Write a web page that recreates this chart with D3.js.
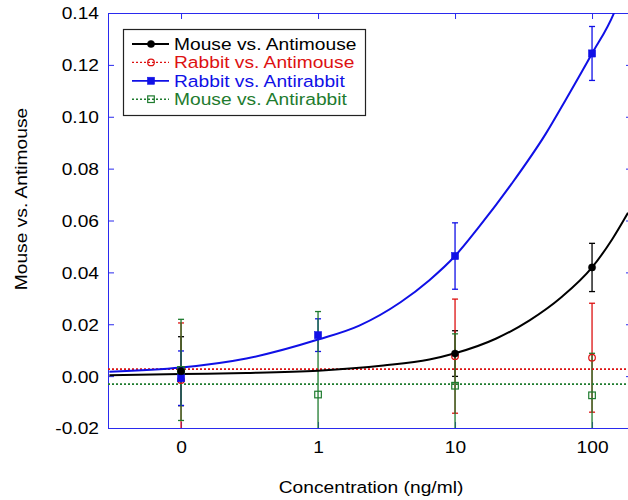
<!DOCTYPE html>
<html>
<head>
<meta charset="utf-8">
<script src="https://cdn.jsdelivr.net/npm/d3@7"></script>
<style>
  html, body { margin: 0; padding: 0; background: #fff; }
  svg { display: block; }
  text { font-family: "Liberation Sans", Arial, sans-serif; }
</style>
</head>
<body>
<svg id="chart" width="628" height="500"></svg>
<script>
// ---- data ----
const categories = ["0", "1", "10", "100"];
const concentrations = [0.1, 1, 10, 100]; // "0" drawn one decade below 1

const mouseAntimouse      = [0.0019, null, 0.0087, 0.0419];
const mouseAntimouseErr   = [0.0133, null, 0.0088, 0.0093];
const rabbitAntimouse     = [-0.0015, null, 0.0077, 0.0071];
const rabbitAntimouseErr  = [0.022, null, 0.022, 0.021];
const rabbitAntirabbit    = [-0.0008, 0.0158, 0.0463, 0.1244];
const rabbitAntirabbitErr = [0.0105, 0.0063, 0.0128, 0.0104];
const mouseAntirabbit     = [0.0024, -0.0071, -0.0037, -0.0074];
const mouseAntirabbitErr  = [0.0195, 0.032, 0.020, 0.0162];

// fitted curves
const mouseAntimouseFitX = [0.03, 0.1, 0.3, 1, 3, 6.5, 10, 20, 35, 60, 100, 140, 183];
const mouseAntimouseFitY = [0.0003, 0.0008, 0.0012, 0.0021, 0.0041, 0.0064, 0.0088, 0.0145, 0.0215, 0.0305, 0.0419, 0.0527, 0.063];
const rabbitAntirabbitFitX = [0.03, 0.1, 0.3, 1, 2, 4, 6.5, 10, 15, 26, 46, 64, 100, 144, 160];
const rabbitAntirabbitFitY = [0.0017, 0.0033, 0.0068, 0.0141, 0.0195, 0.0285, 0.037, 0.0463, 0.0576, 0.0743, 0.0935, 0.1064, 0.1244, 0.1398, 0.146];
const rabbitAntimouseLevel = 0.0027;
const mouseAntirabbitLevel = -0.0031;

const yTicks = [-0.02, 0.00, 0.02, 0.04, 0.06, 0.08, 0.10, 0.12, 0.14];
const yTickLabels = ["-0.02", "0.00", "0.02", "0.04", "0.06", "0.08", "0.10", "0.12", "0.14"];

const series = [
  { name: "Mouse vs. Antimouse",  color: "#000000", values: mouseAntimouse,   errs: mouseAntimouseErr,   marker: "circle", filled: true,  dash: null },
  { name: "Rabbit vs. Antimouse", color: "#dd1111", values: rabbitAntimouse,  errs: rabbitAntimouseErr,  marker: "circle", filled: false, dash: "2,2" },
  { name: "Rabbit vs. Antirabbit",color: "#1010e6", values: rabbitAntirabbit, errs: rabbitAntirabbitErr, marker: "square", filled: true,  dash: null },
  { name: "Mouse vs. Antirabbit", color: "#1e7b2e", values: mouseAntirabbit,  errs: mouseAntirabbitErr,  marker: "square", filled: false, dash: "2,2" }
];

// ---- layout ----
const L = 108, R = 628, T = 13, B = 428;
const SX = 1.13; // horizontal text stretch
const FS = 17;
const axisColor = "#2a2aee";

const svg = d3.select("#chart");
const x = d3.scaleLog().domain([0.0293, 183]).range([L, R]);
const y = d3.scaleLinear().domain([-0.02, 0.14]).range([B, T]);

svg.append("defs").append("clipPath").attr("id", "plotclip")
  .append("rect").attr("x", L).attr("y", T).attr("width", R - L).attr("height", B - T);

// ---- axes ----
const yAxis = d3.axisLeft(y).tickValues(yTicks).tickFormat((d, i) => yTickLabels[i])
  .tickSizeInner(-6).tickSizeOuter(0).tickPadding(9);
const gy = svg.append("g").attr("transform", `translate(${L},0)`).call(yAxis);
gy.selectAll("text").attr("font-size", FS).attr("fill", "#000")
  .attr("font-family", "Liberation Sans, Arial, sans-serif").attr("dy", "0.35em")
  .attr("x", -9 / SX).attr("transform", `scale(${SX},1)`);

const yAxisR = d3.axisRight(y).tickValues(yTicks).tickSizeInner(-6).tickSizeOuter(0).tickFormat("");
svg.append("g").attr("transform", `translate(${R + 4},0)`).call(yAxisR);

const xAxis = d3.axisBottom(x).tickValues(concentrations)
  .tickFormat((d, i) => categories[i]).tickSizeInner(-6).tickSizeOuter(0).tickPadding(13);
const gx = svg.append("g").attr("transform", `translate(0,${B})`).call(xAxis);
gx.selectAll("text").attr("font-size", FS).attr("fill", "#000")
  .attr("font-family", "Liberation Sans, Arial, sans-serif")
  .attr("x", 0).attr("transform", `scale(${SX},1)`);

const xAxisTop = d3.axisTop(x).tickValues(concentrations).tickFormat("")
  .tickSizeInner(-6).tickSizeOuter(0);
svg.append("g").attr("transform", `translate(0,${T})`).call(xAxisTop);

svg.selectAll(".domain").attr("stroke", axisColor);
svg.selectAll(".tick line").attr("stroke", axisColor);

// ---- titles ----
svg.append("text").attr("transform", `translate(371,493) scale(${SX},1)`)
  .attr("text-anchor", "middle").attr("font-size", FS).attr("fill", "#000")
  .text("Concentration (ng/ml)");
svg.append("text").attr("transform", `translate(27,199) rotate(-90) scale(${SX},1)`)
  .attr("text-anchor", "middle").attr("font-size", FS).attr("fill", "#000")
  .text("Mouse vs. Antimouse");

// ---- plot ----
const plot = svg.append("g").attr("clip-path", "url(#plotclip)");

// error bars
const cap = 3;
series.forEach(s => {
  const pts = concentrations.map((c, i) => ({ c, v: s.values[i], e: s.errs[i] })).filter(p => p.v !== null);
  const g = plot.append("g").attr("stroke", s.color).attr("stroke-width", 1.3).attr("fill", "none");
  pts.forEach(p => {
    const cx = x(p.c);
    g.append("line").attr("x1", cx).attr("x2", cx).attr("y1", y(p.v - p.e)).attr("y2", y(p.v + p.e));
    g.append("line").attr("x1", cx - cap).attr("x2", cx + cap).attr("y1", y(p.v + p.e)).attr("y2", y(p.v + p.e));
    g.append("line").attr("x1", cx - cap).attr("x2", cx + cap).attr("y1", y(p.v - p.e)).attr("y2", y(p.v - p.e));
  });
});

// horizontal level lines
plot.append("line").attr("x1", L).attr("x2", R).attr("y1", y(rabbitAntimouseLevel)).attr("y2", y(rabbitAntimouseLevel))
  .attr("stroke", series[1].color).attr("stroke-width", 1.6).attr("stroke-dasharray", "2,2");
plot.append("line").attr("x1", L).attr("x2", R).attr("y1", y(mouseAntirabbitLevel)).attr("y2", y(mouseAntirabbitLevel))
  .attr("stroke", series[3].color).attr("stroke-width", 1.6).attr("stroke-dasharray", "2,2");

// fitted curves
const line = d3.line().x(d => x(d[0])).y(d => y(d[1])).curve(d3.curveMonotoneX);
plot.append("path").datum(mouseAntimouseFitX.map((c, i) => [c, mouseAntimouseFitY[i]]))
  .attr("d", line).attr("fill", "none").attr("stroke", series[0].color).attr("stroke-width", 2);
plot.append("path").datum(rabbitAntirabbitFitX.map((c, i) => [c, rabbitAntirabbitFitY[i]]))
  .attr("d", line).attr("fill", "none").attr("stroke", series[2].color).attr("stroke-width", 2);

// markers
function drawMarker(g, s, cx, cy) {
  if (s.marker === "circle") {
    g.append("circle").attr("cx", cx).attr("cy", cy).attr("r", s.filled ? 3.6 : 3.3)
      .attr("fill", s.filled ? s.color : "none").attr("stroke", s.color).attr("stroke-width", s.filled ? 0.5 : 1.2);
  } else {
    const h = s.filled ? 3.6 : 3.3;
    g.append("rect").attr("x", cx - h).attr("y", cy - h).attr("width", 2 * h).attr("height", 2 * h)
      .attr("fill", s.filled ? s.color : "none").attr("stroke", s.color).attr("stroke-width", s.filled ? 0.5 : 1.2);
  }
}
[3, 1, 2, 0].forEach(k => {
  const s = series[k];
  concentrations.forEach((c, i) => {
    if (s.values[i] === null) return;
    drawMarker(plot, s, x(c), y(s.values[i]));
  });
});

// ---- legend ----
const lg = svg.append("g");
lg.append("rect").attr("x", 123.5).attr("y", 29.5).attr("width", 242).attr("height", 86)
  .attr("fill", "#fff").attr("stroke", "#222").attr("stroke-width", 1.2);
series.forEach((s, i) => {
  const cy = 44 + i * 18.4;
  lg.append("line").attr("x1", 132).attr("x2", 169).attr("y1", cy).attr("y2", cy)
    .attr("stroke", s.color).attr("stroke-width", s.dash ? 1.4 : 1.8)
    .attr("stroke-dasharray", s.dash);
  drawMarker(lg, s, 151, cy);
  lg.append("text").attr("transform", `translate(174,${cy + 6}) scale(${SX},1)`)
    .attr("font-size", FS).attr("fill", s.color).text(s.name);
});
</script>
</body>
</html>
